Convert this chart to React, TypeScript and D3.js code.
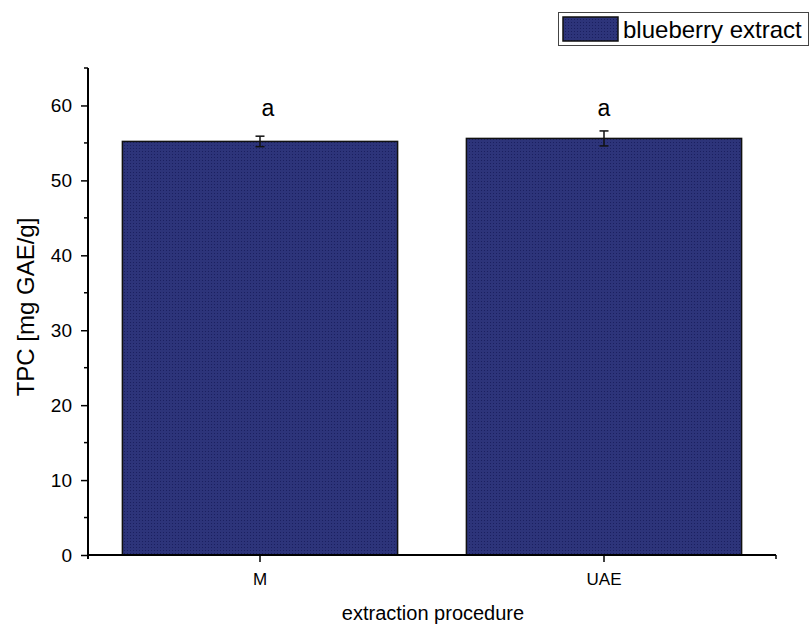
import React from "react";
import * as d3 from "d3";

const categories = ["M", "UAE"];
const tpcValues = [55.2, 55.6];
const tpcErrors = [0.7, 1.0];
const letters = ["a", "a"];
const yTicks = [0, 10, 20, 30, 40, 50, 60];
const yMinorTicks = [5, 15, 25, 35, 45, 55, 65];
const seriesName = "blueberry extract";

const W = 810;
const H = 628;
const FONT = "'Liberation Sans', Arial, sans-serif";

const App = () => {
  const svg = React.useRef<SVGSVGElement>(null);

  React.useEffect(() => {
    d3.select(svg.current).selectAll("*").remove();
    drawChart(svg);
  }, [svg]);

  return (
    <svg
      ref={svg}
      width={W}
      height={H}
      style={{ position: "absolute", left: 0, top: 0, background: "#fff" }}
    />
  );
};

function drawChart(svgRef: React.RefObject<SVGSVGElement | null>) {
  const left = 88;
  const right = 776;
  const bottom = 555;
  const top = 68;

  const xScale = d3
    .scaleBand<string>()
    .domain(categories)
    .range([left, right])
    .paddingInner(0.2)
    .paddingOuter(0.1);

  const yScale = d3.scaleLinear().domain([0, 65]).range([bottom, top]);

  const svg = d3.select(svgRef.current).attr("width", W).attr("height", H);

  // dotted fill like the original
  const defs = svg.append("defs");
  const pat = defs
    .append("pattern")
    .attr("id", "dots")
    .attr("patternUnits", "userSpaceOnUse")
    .attr("width", 3)
    .attr("height", 3);
  pat.append("rect").attr("width", 3).attr("height", 3).attr("fill", "#2d347a");
  pat
    .append("rect")
    .attr("x", 1)
    .attr("y", 1)
    .attr("width", 1)
    .attr("height", 1)
    .attr("fill", "#1b2060");

  // bars
  svg
    .append("g")
    .selectAll("rect")
    .data(tpcValues)
    .join("rect")
    .attr("x", (d, i) => xScale(categories[i])!)
    .attr("y", (d) => yScale(d))
    .attr("width", xScale.bandwidth())
    .attr("height", (d) => yScale(0) - yScale(d))
    .attr("fill", "url(#dots)")
    .attr("stroke", "#111")
    .attr("stroke-width", 1.5);

  // error bars
  const cx = (i: number) => xScale(categories[i])! + xScale.bandwidth() / 2;
  const eb = svg.append("g").attr("stroke", "#111").attr("stroke-width", 1.5);
  tpcValues.forEach((v, i) => {
    const e = tpcErrors[i];
    eb.append("line")
      .attr("x1", cx(i))
      .attr("x2", cx(i))
      .attr("y1", yScale(v + e))
      .attr("y2", yScale(v - e));
    [v + e, v - e].forEach((y) => {
      eb.append("line")
        .attr("x1", cx(i) - 4.5)
        .attr("x2", cx(i) + 4.5)
        .attr("y1", yScale(y))
        .attr("y2", yScale(y));
    });
  });

  // significance letters
  svg
    .append("g")
    .selectAll("text")
    .data(letters)
    .join("text")
    .attr("x", (d, i) => cx(i) + (i === 0 ? 8 : 0))
    .attr("y", 116)
    .attr("text-anchor", "middle")
    .attr("font-family", FONT)
    .attr("font-size", 23)
    .text((d) => d);

  // y axis
  const yAxis = d3
    .axisLeft(yScale)
    .tickValues(yTicks)
    .tickSize(7)
    .tickPadding(9)
    .tickFormat(d3.format("d"));
  const gy = svg
    .append("g")
    .attr("transform", "translate(" + left + ",0)")
    .call(yAxis);
  gy.select(".domain").remove();
  gy.selectAll("line").attr("stroke", "#000").attr("stroke-width", 1.5);
  gy.selectAll("text")
    .attr("font-family", FONT)
    .attr("font-size", 19)
    .attr("fill", "#000");
  gy.append("g")
    .selectAll("line")
    .data(yMinorTicks)
    .join("line")
    .attr("x1", -4)
    .attr("x2", 0)
    .attr("y1", (d) => yScale(d))
    .attr("y2", (d) => yScale(d))
    .attr("stroke", "#000")
    .attr("stroke-width", 1.5);
  gy.append("line")
    .attr("x1", 0)
    .attr("x2", 0)
    .attr("y1", top)
    .attr("y2", bottom + 4)
    .attr("stroke", "#000")
    .attr("stroke-width", 2);

  // x axis
  const xAxis = d3.axisBottom(xScale).tickSize(7).tickPadding(11);
  const gx = svg
    .append("g")
    .attr("transform", "translate(0," + bottom + ")")
    .call(xAxis);
  gx.select(".domain").remove();
  gx.selectAll("line").attr("stroke", "#000").attr("stroke-width", 1.5);
  gx.selectAll("text")
    .attr("font-family", FONT)
    .attr("font-size", 17)
    .attr("fill", "#000");
  gx.append("line")
    .attr("x1", left)
    .attr("x2", right)
    .attr("y1", 0)
    .attr("y2", 0)
    .attr("stroke", "#000")
    .attr("stroke-width", 2);
  gx.append("line")
    .attr("x1", right)
    .attr("x2", right)
    .attr("y1", 0)
    .attr("y2", 4)
    .attr("stroke", "#000")
    .attr("stroke-width", 1.5);

  // axis titles
  svg
    .append("text")
    .attr("transform", "translate(34,307) rotate(-90)")
    .attr("text-anchor", "middle")
    .attr("font-family", FONT)
    .attr("font-size", 24)
    .text("TPC [mg GAE/g]");
  svg
    .append("text")
    .attr("x", 433)
    .attr("y", 620)
    .attr("text-anchor", "middle")
    .attr("font-family", FONT)
    .attr("font-size", 20)
    .text("extraction procedure");

  // legend
  const lg = svg.append("g");
  lg.append("rect")
    .attr("x", 558.5)
    .attr("y", 12.5)
    .attr("width", 250)
    .attr("height", 33)
    .attr("fill", "#fff")
    .attr("stroke", "#444")
    .attr("stroke-width", 1);
  lg.append("rect")
    .attr("x", 563)
    .attr("y", 17)
    .attr("width", 55)
    .attr("height", 24)
    .attr("fill", "url(#dots)")
    .attr("stroke", "#111")
    .attr("stroke-width", 1.5);
  lg.append("text")
    .attr("x", 623)
    .attr("y", 38)
    .attr("font-family", FONT)
    .attr("font-size", 24)
    .text(seriesName);
}

export default App;
